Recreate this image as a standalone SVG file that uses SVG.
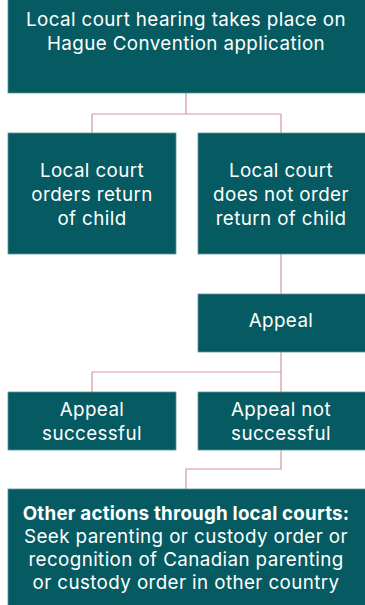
<svg xmlns="http://www.w3.org/2000/svg" width="365" height="605" viewBox="0 0 365 605">
<style>
.box{fill:#055b61;stroke:#5e9499;stroke-width:0.8}
.t{font-family:Inter,Lato,sans-serif;font-size:18.8px;letter-spacing:0.4px;fill:#ffffff;text-anchor:middle}
.b{font-weight:bold;letter-spacing:0.2px}
.c{fill:none;stroke:#d5959b;stroke-width:1.2}
</style>
<rect width="365" height="605" fill="#ffffff"/>
<g id="connectors">
<path class="c" d="M186,93 V114 M92,114 H281 M92,114 V133 M281,114 V133"/>
<path class="c" d="M281,254 V294"/>
<path class="c" d="M281,352 V372 M92,372 H281 M92,372 V392 M281,372 V392"/>
<path class="c" d="M281,450 V469 H186 V489"/>
</g>
<g id="n1"><rect class="box" x="8" y="-1" width="358" height="94"/>
<text class="t" x="186" y="26">Local court hearing takes place on</text>
<text class="t" x="186" y="50">Hague Convention application</text></g>
<g id="n2"><rect class="box" x="8" y="133" width="168" height="121"/>
<text class="t" x="92" y="177">Local court</text>
<text class="t" x="92" y="201">orders return</text>
<text class="t" x="92" y="224.5">of child</text></g>
<g id="n3"><rect class="box" x="198" y="133" width="168" height="121"/>
<text class="t" x="281" y="177">Local court</text>
<text class="t" x="281" y="201">does not order</text>
<text class="t" x="281" y="224.5">return of child</text></g>
<g id="n4"><rect class="box" x="198" y="294" width="168" height="58"/>
<text class="t" x="281" y="327">Appeal</text></g>
<g id="n5"><rect class="box" x="8" y="392" width="168" height="58"/>
<text class="t" x="92" y="416">Appeal</text>
<text class="t" x="92" y="439.5">successful</text></g>
<g id="n6"><rect class="box" x="198" y="392" width="168" height="58"/>
<text class="t" x="281" y="416">Appeal not</text>
<text class="t" x="281" y="439.5">successful</text></g>
<g id="n7"><rect class="box" x="8" y="489" width="358" height="117"/>
<text class="t b" x="186" y="519.5">Other actions through local courts:</text>
<text class="t" x="186" y="542.5">Seek parenting or custody order or</text>
<text class="t" x="186" y="565.5">recognition of Canadian parenting</text>
<text class="t" x="186" y="588.8">or custody order in other country</text></g>
</svg>
